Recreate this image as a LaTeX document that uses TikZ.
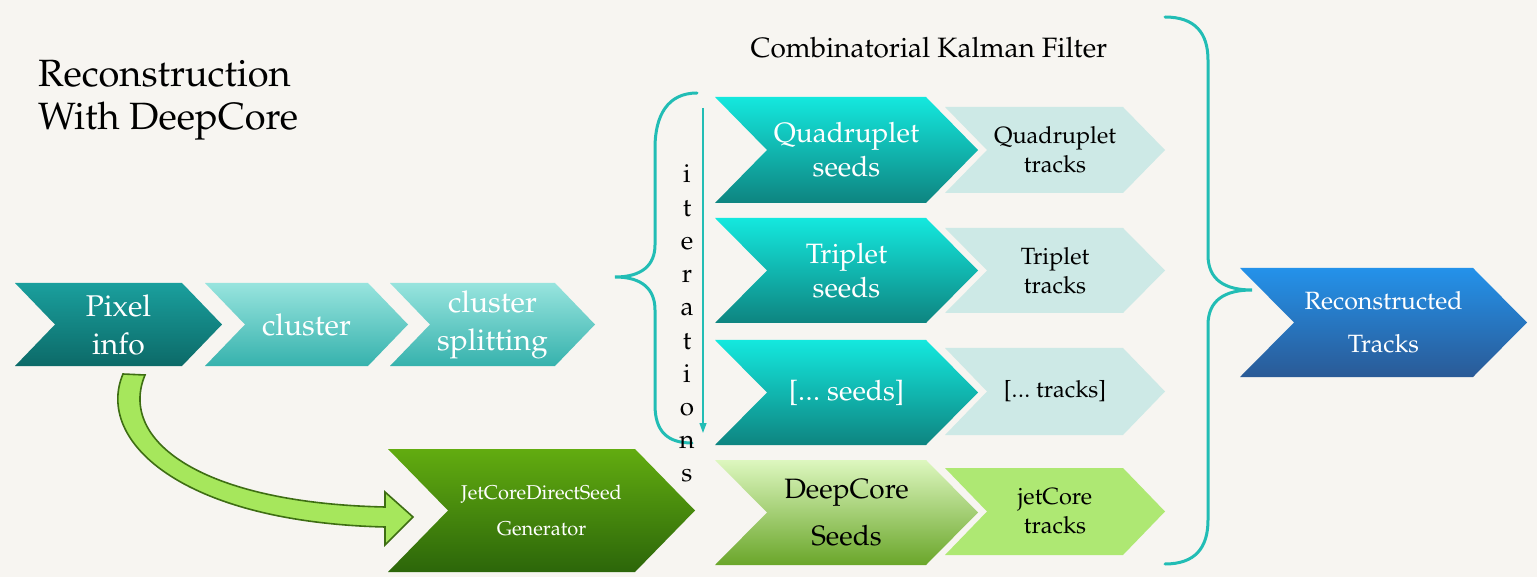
\documentclass[tikz,border=0pt]{standalone}
\usepackage[T1]{fontenc}
\usepackage{mathpazo}
\usetikzlibrary{arrows.meta}

\definecolor{paper}{HTML}{F7F5F1}
\definecolor{pixA}{HTML}{1A9F9D}
\definecolor{pixB}{HTML}{0C6A68}
\definecolor{cluA}{HTML}{98E4DE}
\definecolor{cluB}{HTML}{36B2AD}
\definecolor{seedA}{HTML}{14E8DE}
\definecolor{seedB}{HTML}{0E8480}
\definecolor{trackfill}{HTML}{CDE9E6}
\definecolor{dcA}{HTML}{DDF7BF}
\definecolor{dcB}{HTML}{6AA62A}
\definecolor{jetfill}{HTML}{AEE873}
\definecolor{genA}{HTML}{62AC10}
\definecolor{genB}{HTML}{2C660A}
\definecolor{recoA}{HTML}{2492EA}
\definecolor{recoB}{HTML}{2A5A96}
\definecolor{bracecol}{HTML}{22BDB5}
\definecolor{arrowfill}{HTML}{A6E75C}
\definecolor{arrowline}{HTML}{3E6E13}

% tight three-dot ellipsis
\newcommand\tightdots{.\kern0.02em.\kern0.02em.}

% #1 name, #2 left x, #3 right x, #4 top y, #5 bottom y, #6 point depth,
% #7 fill style, #8 label style, #9 label
\newcommand\chevron[9]{%
  \path[#7] (#2,#4) -- ({#3-#6},#4) -- (#3,{(#4+#5)/2}) -- ({#3-#6},#5)
    -- (#2,#5) -- ({#2+#6},{(#4+#5)/2}) -- cycle;
  \node[align=center, inner sep=0pt, #8] (#1) at ({(#2+#3)/2},{(#4+#5)/2}) {#9};
}

\tikzset{
  pixfill/.style={top color=pixA, bottom color=pixB},
  clufill/.style={top color=cluA, bottom color=cluB},
  seedfill/.style={top color=seedA, bottom color=seedB},
  trackbox/.style={fill=trackfill},
  dcfill/.style={top color=dcA, bottom color=dcB},
  jetbox/.style={fill=jetfill},
  genfill/.style={top color=genA, bottom color=genB},
  recofill/.style={top color=recoA, bottom color=recoB},
  mainlbl/.style={text=white, font=\fontsize{30}{38}\selectfont},
  seedlbl/.style={text=white, font=\fontsize{28}{34}\selectfont},
  tracklbl/.style={text=black, font=\fontsize{23.5}{29}\selectfont},
  curly/.style={draw=bracecol, line width=3pt, line cap=round},
}

\begin{document}
\begin{tikzpicture}[x=1pt, y=-1pt]
\useasboundingbox (0,0) rectangle (1537,577);
\fill[paper] (0,0) rectangle (1537,577);

% title
\node[anchor=west, align=left, inner sep=0pt, font=\fontsize{38}{43}\selectfont]
  (title) at (38,100) {Reconstruction\\With DeepCore};
\node[inner sep=0pt, font=\fontsize{28}{30}\selectfont] (ckf) at (929,48) {Combinatorial Kalman Filter};

% hit level steps
\chevron{pix}{15}{222}{283}{366}{40}{pixfill}{mainlbl}{Pixel\\info}
\chevron{clu}{205}{408}{283}{366}{40}{clufill}{mainlbl}{cluster}
\chevron{spl}{390}{595}{283}{366}{40}{clufill}{mainlbl}{cluster\\splitting}

% seeding iterations and their tracks
\chevron{qseed}{715}{978}{97}{203}{52}{seedfill}{seedlbl}{Quadruplet\\seeds}
\chevron{qtrk}{945}{1165}{107}{193}{42}{trackbox}{tracklbl}{Quadruplet\\tracks}
\chevron{tseed}{715}{978}{218}{323}{52}{seedfill}{seedlbl}{Triplet\\seeds}
\chevron{ttrk}{945}{1165}{228}{313}{42}{trackbox}{tracklbl}{Triplet\\tracks}
\chevron{dseed}{715}{978}{340}{445}{52}{seedfill}{seedlbl}{[\tightdots\ seeds]}
\chevron{dtrk}{945}{1165}{348}{435}{42}{trackbox}{tracklbl}{[\tightdots\ tracks]}
\chevron{dcseed}{715}{978}{460}{565}{52}{dcfill}{seedlbl, text=black, font=\fontsize{28}{47}\selectfont}{DeepCore\\Seeds}
\chevron{jtrk}{945}{1165}{468}{555}{42}{jetbox}{tracklbl}{jetCore\\tracks}

% DeepCore seed generator
\chevron{gen}{388}{695}{449}{572}{60}{genfill}{text=white, font=\fontsize{20}{36}\selectfont}{JetCoreDirectSeed\\Generator}

% final output
\chevron{reco}{1240}{1527}{268}{377}{54}{recofill}{text=white, font=\fontsize{25}{43}\selectfont}{Reconstructed\\Tracks}

% curved block arrow from the pixel info into the seed generator
\path[draw=arrowline, fill=arrowfill, line width=1.6pt, line join=miter]
  (123,374) .. controls (95,440) and (180,522) .. (385,527)
  -- (385,545) -- (413,517) -- (385,492) -- (385,507)
  .. controls (200,503) and (118,440) .. (145,375) -- cycle;

% brace gathering the seeding iterations
\draw[curly] (697,93) .. controls (668,93) and (655,115) .. (655,148)
  -- (655,245) .. controls (655,265) and (642,277) .. (615,277)
  .. controls (642,277) and (655,289) .. (655,310)
  -- (655,405) .. controls (655,432) and (668,443) .. (692,443);

% iteration order arrow and its vertical label
\coordinate (itertop) at (703,108);
\coordinate (iterbot) at (703,433);
\draw[draw=bracecol, line width=1.3pt, -{Triangle[length=10pt,width=7pt]}] (itertop) -- (iterbot);
\foreach \ch [count=\k from 0] in {i,t,e,r,a,t,i,o,n,s}
  \node[anchor=base, inner sep=0pt, font=\fontsize{26}{30}\selectfont] (iter\k) at (687,{183+33.2*\k}) {\ch};

% brace gathering all track collections
\draw[curly] (1165,17) .. controls (1195,17) and (1208,33) .. (1208,60)
  -- (1208,255) .. controls (1208,280) and (1225,290) .. (1252,290)
  .. controls (1225,290) and (1208,300) .. (1208,325)
  -- (1208,520) .. controls (1208,548) and (1195,564) .. (1165,564);
\end{tikzpicture}
\end{document}
